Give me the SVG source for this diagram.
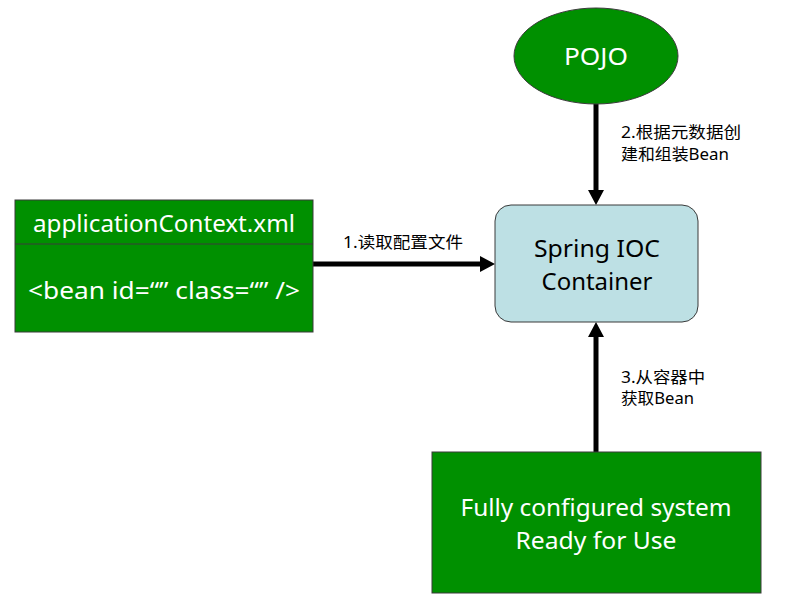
<svg xmlns="http://www.w3.org/2000/svg" width="787" height="605" viewBox="0 0 787 605">
<style>
.g{fill:#009000;stroke:#3a3a3a;stroke-width:1}
.wt{fill:#ffffff;font-family:"Noto Sans","Noto Sans CJK SC",sans-serif;text-anchor:middle}
.bt{fill:#000000;font-family:"Noto Sans","Noto Sans CJK SC",sans-serif}
.lb{fill:#000000;font-family:"Noto Sans","Noto Sans CJK SC",sans-serif;font-size:16px}
.c{stroke:#000;stroke-width:5;fill:none}
</style>
<rect width="787" height="605" fill="#ffffff"/>
<g id="connectors">
<line class="c" x1="313" y1="264" x2="482" y2="264"/>
<polygon points="495,264 480,256 480,272" fill="#000"/>
<line class="c" x1="596" y1="104" x2="596" y2="192"/>
<polygon points="596,205 588,190 604,190" fill="#000"/>
<line class="c" x1="596" y1="452" x2="596" y2="335"/>
<polygon points="596,322 588,337 604,337" fill="#000"/>
<text class="lb" x="343" y="248" textLength="120" lengthAdjust="spacingAndGlyphs">1.读取配置文件</text>
<text class="lb" x="621" y="138" textLength="120" lengthAdjust="spacingAndGlyphs">2.根据元数据创</text>
<text class="lb" x="621" y="160" textLength="108" lengthAdjust="spacingAndGlyphs">建和组装Bean</text>
<text class="lb" x="621" y="383" textLength="84" lengthAdjust="spacingAndGlyphs">3.从容器中</text>
<text class="lb" x="621" y="404" textLength="73" lengthAdjust="spacingAndGlyphs">获取Bean</text>
</g>
<g id="appctx">
<rect class="g" x="15" y="200" width="298" height="132"/>
<line x1="15" y1="244" x2="313" y2="244" stroke="#3a3a3a" stroke-width="1"/>
<text class="wt" x="164" y="232" font-size="23" textLength="262" lengthAdjust="spacingAndGlyphs">applicationContext.xml</text>
<text class="wt" x="164" y="299" font-size="23" textLength="272" lengthAdjust="spacingAndGlyphs">&lt;bean id=“” class=“” /&gt;</text>
</g>
<g id="pojo">
<ellipse class="g" cx="596" cy="56" rx="82" ry="48"/>
<text class="wt" x="596" y="65" font-size="24" textLength="64" lengthAdjust="spacingAndGlyphs">POJO</text>
</g>
<g id="ioc">
<rect x="495" y="205" width="203" height="117" rx="16" ry="16" fill="#bde0e4" stroke="#3a3a3a" stroke-width="1"/>
<text class="bt" x="597" y="257" font-size="24" text-anchor="middle" textLength="126" lengthAdjust="spacingAndGlyphs">Spring IOC</text>
<text class="bt" x="597" y="290" font-size="24" text-anchor="middle" textLength="111" lengthAdjust="spacingAndGlyphs">Container</text>
</g>
<g id="system">
<rect class="g" x="432" y="452" width="329" height="141"/>
<text class="wt" x="596" y="516" font-size="24" textLength="271" lengthAdjust="spacingAndGlyphs">Fully configured system</text>
<text class="wt" x="596" y="549" font-size="24" textLength="161" lengthAdjust="spacingAndGlyphs">Ready for Use</text>
</g>
</svg>
